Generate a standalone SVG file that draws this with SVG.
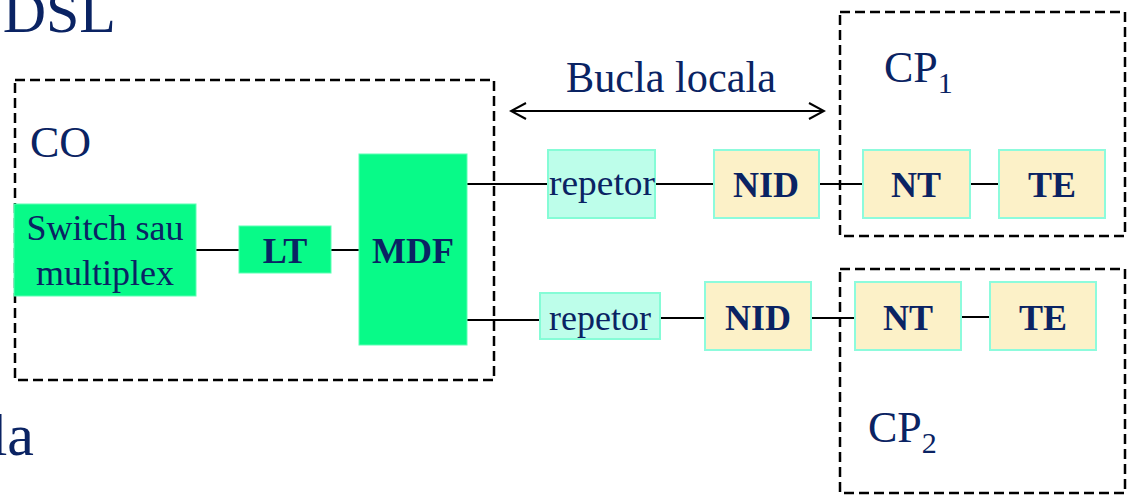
<svg xmlns="http://www.w3.org/2000/svg" width="1131" height="495" viewBox="0 0 1131 495" font-family="'Liberation Serif', 'DejaVu Serif', serif">
<defs>
<style>
text{fill:#0a2363}
.big{font-size:60px}
.lbl{font-size:44px}
.sub{font-size:30px}
.n{font-size:36px;text-anchor:middle}
.b{font-weight:bold}
.dash{fill:none;stroke:#000;stroke-width:2.5;stroke-dasharray:10 5}
.g{fill:#08fa88;stroke:#5cffb4;stroke-width:1}
.r{fill:#bdfeea;stroke:#85fcd6;stroke-width:2}
.y{fill:#fcf1c8;stroke:#8dfbdc;stroke-width:2}
.c{stroke:#000;stroke-width:2;fill:none}
</style>
<marker id="ah" viewBox="0 0 20 20" refX="18" refY="10" markerWidth="20" markerHeight="20" markerUnits="userSpaceOnUse" orient="auto-start-reverse">
<path d="M3,2 L18,10 L3,18" fill="none" stroke="#000" stroke-width="2"/>
</marker>
</defs>
<text class="big" x="116" y="32" text-anchor="end">DSL</text>
<text class="big" x="34" y="455" text-anchor="end">la</text>
<g id="CO">
<rect class="dash" x="15" y="80" width="479" height="300"/>
<text class="lbl" x="30" y="157">CO</text>
</g>
<g id="CP1">
<rect class="dash" x="840" y="12" width="285" height="224"/>
<text class="lbl" x="884" y="82">CP<tspan class="sub" dy="11">1</tspan></text>
</g>
<g id="CP2">
<rect class="dash" x="840" y="269" width="285" height="224"/>
<text class="lbl" x="868" y="442">CP<tspan class="sub" dy="11">2</tspan></text>
</g>
<g id="connectors">
<line class="c" x1="196" y1="250" x2="239" y2="250"/>
<line class="c" x1="331" y1="250" x2="359" y2="250"/>
<line class="c" x1="467" y1="184" x2="548" y2="184"/>
<line class="c" x1="655" y1="184" x2="714" y2="184"/>
<line class="c" x1="819" y1="184" x2="863" y2="184"/>
<line class="c" x1="970" y1="184" x2="999" y2="184"/>
<line class="c" x1="467" y1="320" x2="540" y2="320"/>
<line class="c" x1="660" y1="318" x2="705" y2="318"/>
<line class="c" x1="811" y1="318" x2="855" y2="318"/>
<line class="c" x1="961" y1="317" x2="990" y2="317"/>
<line class="c" x1="511" y1="111" x2="824" y2="111" marker-start="url(#ah)" marker-end="url(#ah)"/>
</g>
<text class="lbl" x="566" y="92" textLength="210" lengthAdjust="spacingAndGlyphs">Bucla locala</text>
<g id="switch">
<rect class="g" x="14" y="204" width="182" height="92"/>
<text class="n" x="105" y="240">Switch sau</text>
<text class="n" x="105" y="285">multiplex</text>
</g>
<g id="LT">
<rect class="g" x="239" y="226" width="92" height="47"/>
<text class="n b" x="285" y="263">LT</text>
</g>
<g id="MDF">
<rect class="g" x="359" y="154" width="108" height="191"/>
<text class="n b" x="413" y="263">MDF</text>
</g>
<g id="repetor1">
<rect class="r" x="548" y="150" width="107" height="68"/>
<text class="n" x="602" y="195" textLength="106" lengthAdjust="spacingAndGlyphs">repetor</text>
</g>
<g id="NID1">
<rect class="y" x="714" y="150" width="105" height="68"/>
<text class="n b" x="766" y="197">NID</text>
</g>
<g id="NT1">
<rect class="y" x="863" y="150" width="107" height="68"/>
<text class="n b" x="916" y="197">NT</text>
</g>
<g id="TE1">
<rect class="y" x="999" y="150" width="106" height="68"/>
<text class="n b" x="1052" y="197">TE</text>
</g>
<g id="repetor2">
<rect class="r" x="540" y="293" width="120" height="46"/>
<text class="n" x="600" y="330">repetor</text>
</g>
<g id="NID2">
<rect class="y" x="705" y="282" width="106" height="68"/>
<text class="n b" x="758" y="330">NID</text>
</g>
<g id="NT2">
<rect class="y" x="855" y="282" width="106" height="68"/>
<text class="n b" x="908" y="330">NT</text>
</g>
<g id="TE2">
<rect class="y" x="990" y="282" width="106" height="68"/>
<text class="n b" x="1043" y="330">TE</text>
</g>
</svg>
